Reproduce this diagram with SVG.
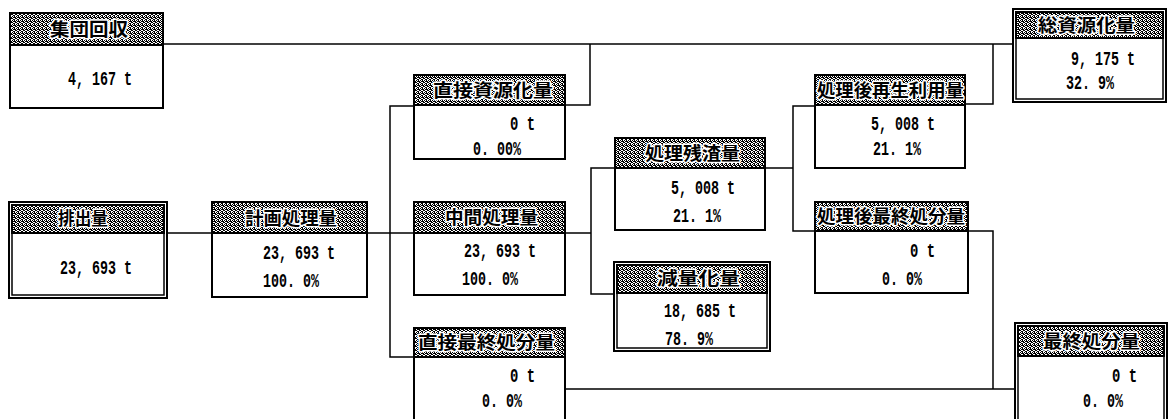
<svg xmlns="http://www.w3.org/2000/svg" width="1172" height="419" viewBox="0 0 1172 419">
<defs>
<pattern id="dither" width="4" height="4" patternUnits="userSpaceOnUse">
<rect width="4" height="4" fill="#000"/>
<rect x="1" y="0" width="1" height="1" fill="#fff"/>
<rect x="3" y="0" width="1" height="1" fill="#fff"/>
<rect x="0" y="1" width="1" height="1" fill="#fff"/>
<rect x="2" y="2" width="1" height="1" fill="#fff"/>
<rect x="1" y="2" width="1" height="1" fill="#fff"/>
<rect x="3" y="3" width="1" height="1" fill="#fff"/>
<rect x="0" y="3" width="1" height="1" fill="#fff"/>
</pattern>
</defs>
<style>
.box{fill:#fff;stroke:#000;stroke-width:2}
.inner{fill:none;stroke:#000;stroke-width:1.5}
.hdr{fill:url(#dither);stroke:#000;stroke-width:2}
.ht{font-family:"Noto Sans CJK JP","Noto Sans CJK SC",sans-serif;font-weight:bold;font-size:18px;fill:#000;stroke:#fff;stroke-width:3px;paint-order:stroke;stroke-linejoin:round}
.v{font-family:"Liberation Mono",monospace;font-weight:bold;font-size:20px;fill:#000}
.conn{fill:none;stroke:#000;stroke-width:1.5}
</style>
<rect width="1172" height="419" fill="#fff"/>
<g id="connectors">
<path class="conn" d="M163,44 H1013"/>
<path class="conn" d="M565,105 H590 V44"/>
<path class="conn" d="M965,104 H993 V44"/>
<path class="conn" d="M167,233 H212 M367,233 H414 M565,233 H591"/>
<path class="conn" d="M414,106 H390 V357 H414"/>
<path class="conn" d="M615,168 H591 V294 H614"/>
<path class="conn" d="M765,168 H793 M815,106 H793 V231 H815"/>
<path class="conn" d="M968,231 H993 V389 M565,389 H1015"/>
</g>
<g id="shuudan">
<rect class="box" x="10" y="13" width="153" height="95"/>
<rect class="hdr" x="10" y="13" width="153" height="32"/>
<text class="ht" x="50" y="36" textLength="78" lengthAdjust="spacingAndGlyphs">集団回収</text>
<text class="v" x="68" y="85" textLength="64" lengthAdjust="spacingAndGlyphs">4, 167 t</text>
</g>
<g id="haishutsu">
<rect class="box" x="9" y="202" width="158" height="96"/>
<rect class="inner" x="12" y="205" width="152" height="90"/>
<rect class="hdr" x="12" y="205" width="152" height="28"/>
<text class="ht" x="58" y="225" textLength="50" lengthAdjust="spacingAndGlyphs">排出量</text>
<text class="v" x="60" y="274" textLength="72" lengthAdjust="spacingAndGlyphs">23, 693 t</text>
</g>
<g id="keikaku">
<rect class="box" x="212" y="202" width="155" height="95"/>
<rect class="hdr" x="212" y="202" width="155" height="31"/>
<text class="ht" x="245" y="225" textLength="92" lengthAdjust="spacingAndGlyphs">計画処理量</text>
<text class="v" x="263" y="259" textLength="72" lengthAdjust="spacingAndGlyphs">23, 693 t</text>
<text class="v" x="263" y="287" textLength="56" lengthAdjust="spacingAndGlyphs">100. 0%</text>
</g>
<g id="chokusetsu-shigen">
<rect class="box" x="414" y="75" width="151" height="84"/>
<rect class="hdr" x="414" y="75" width="151" height="30"/>
<text class="ht" x="433" y="97" textLength="120" lengthAdjust="spacingAndGlyphs">直接資源化量</text>
<text class="v" x="510" y="130" textLength="25" lengthAdjust="spacingAndGlyphs">0 t</text>
<text class="v" x="473" y="155" textLength="48" lengthAdjust="spacingAndGlyphs">0. 00%</text>
</g>
<g id="chuukan">
<rect class="box" x="414" y="202" width="151" height="93"/>
<rect class="hdr" x="414" y="202" width="151" height="31"/>
<text class="ht" x="445" y="224" textLength="93" lengthAdjust="spacingAndGlyphs">中間処理量</text>
<text class="v" x="464" y="257" textLength="72" lengthAdjust="spacingAndGlyphs">23, 693 t</text>
<text class="v" x="462" y="285" textLength="56" lengthAdjust="spacingAndGlyphs">100. 0%</text>
</g>
<g id="chokusetsu-saishuu">
<rect class="box" x="414" y="328" width="151" height="100"/>
<rect class="hdr" x="414" y="328" width="151" height="29"/>
<text class="ht" x="418" y="349" textLength="137" lengthAdjust="spacingAndGlyphs">直接最終処分量</text>
<text class="v" x="510" y="382" textLength="25" lengthAdjust="spacingAndGlyphs">0 t</text>
<text class="v" x="482" y="407" textLength="40" lengthAdjust="spacingAndGlyphs">0. 0%</text>
</g>
<g id="zansa">
<rect class="box" x="615" y="138" width="150" height="92"/>
<rect class="hdr" x="615" y="138" width="150" height="30"/>
<text class="ht" x="645" y="160" textLength="95" lengthAdjust="spacingAndGlyphs">処理残渣量</text>
<text class="v" x="671" y="194" textLength="64" lengthAdjust="spacingAndGlyphs">5, 008 t</text>
<text class="v" x="673" y="222" textLength="48" lengthAdjust="spacingAndGlyphs">21. 1%</text>
</g>
<g id="genryou">
<rect class="box" x="614" y="262" width="156" height="89"/>
<rect class="inner" x="617" y="265" width="150" height="83"/>
<rect class="hdr" x="617" y="265" width="150" height="28"/>
<text class="ht" x="657" y="285" textLength="83" lengthAdjust="spacingAndGlyphs">減量化量</text>
<text class="v" x="664" y="317" textLength="72" lengthAdjust="spacingAndGlyphs">18, 685 t</text>
<text class="v" x="665" y="345" textLength="48" lengthAdjust="spacingAndGlyphs">78. 9%</text>
</g>
<g id="saisei">
<rect class="box" x="815" y="75" width="150" height="93"/>
<rect class="hdr" x="815" y="75" width="150" height="30"/>
<text class="ht" x="817" y="97" textLength="147" lengthAdjust="spacingAndGlyphs">処理後再生利用量</text>
<text class="v" x="871" y="130" textLength="64" lengthAdjust="spacingAndGlyphs">5, 008 t</text>
<text class="v" x="873" y="155" textLength="48" lengthAdjust="spacingAndGlyphs">21. 1%</text>
</g>
<g id="shorigo-saishuu">
<rect class="box" x="815" y="202" width="153" height="91"/>
<rect class="hdr" x="815" y="202" width="153" height="29"/>
<text class="ht" x="817" y="223" textLength="148" lengthAdjust="spacingAndGlyphs">処理後最終処分量</text>
<text class="v" x="910" y="257" textLength="25" lengthAdjust="spacingAndGlyphs">0 t</text>
<text class="v" x="882" y="285" textLength="40" lengthAdjust="spacingAndGlyphs">0. 0%</text>
</g>
<g id="soushigen">
<rect class="box" x="1013" y="9" width="153" height="93"/>
<rect class="inner" x="1016" y="12" width="147" height="87"/>
<rect class="hdr" x="1016" y="12" width="147" height="26"/>
<text class="ht" x="1038" y="32" textLength="97" lengthAdjust="spacingAndGlyphs">総資源化量</text>
<text class="v" x="1071" y="65" textLength="64" lengthAdjust="spacingAndGlyphs">9, 175 t</text>
<text class="v" x="1066" y="89" textLength="48" lengthAdjust="spacingAndGlyphs">32. 9%</text>
</g>
<g id="saishuu">
<rect class="box" x="1015" y="323" width="152" height="105"/>
<rect class="inner" x="1018" y="326" width="146" height="100"/>
<rect class="hdr" x="1018" y="326" width="146" height="30"/>
<text class="ht" x="1043" y="348" textLength="97" lengthAdjust="spacingAndGlyphs">最終処分量</text>
<text class="v" x="1112" y="382" textLength="25" lengthAdjust="spacingAndGlyphs">0 t</text>
<text class="v" x="1083" y="407" textLength="40" lengthAdjust="spacingAndGlyphs">0. 0%</text>
</g>
</svg>
